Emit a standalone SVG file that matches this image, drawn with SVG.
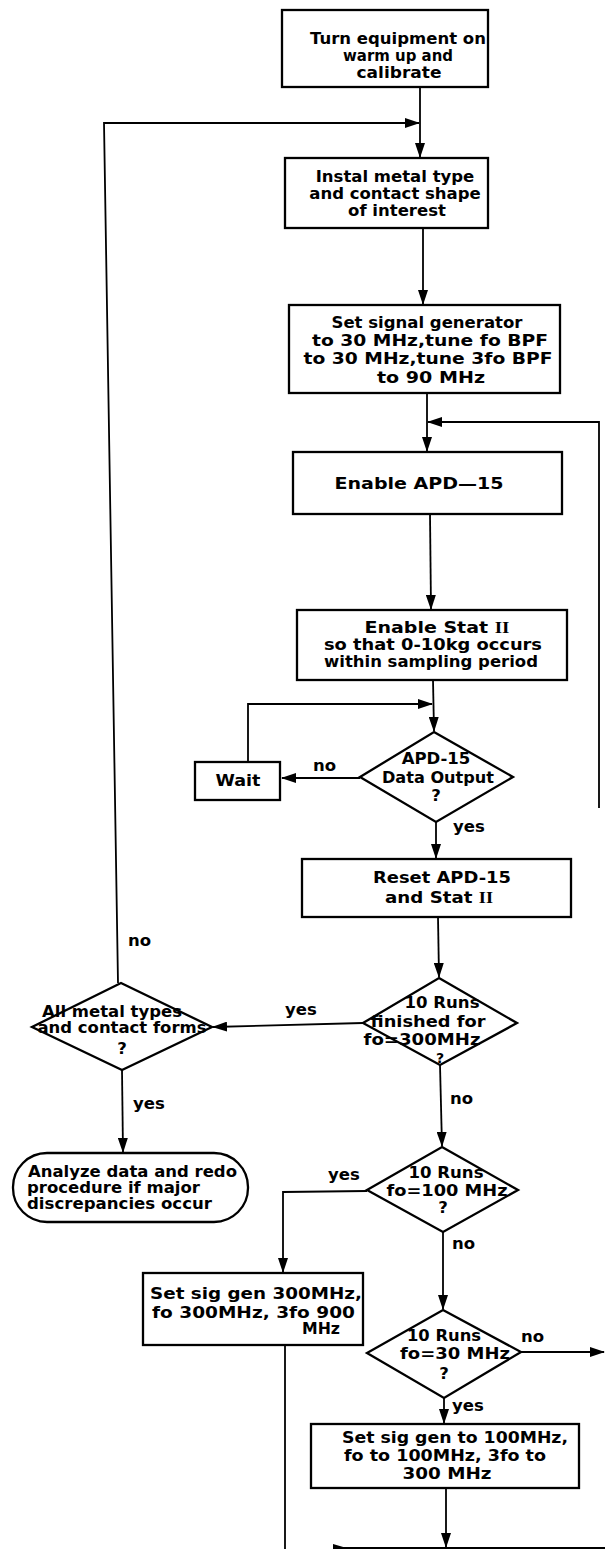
<svg xmlns="http://www.w3.org/2000/svg" width="605" height="1549" viewBox="0 0 605 1549">
<defs>
<marker id="ah" markerUnits="userSpaceOnUse" markerWidth="15" markerHeight="10" refX="14" refY="5" orient="auto">
<path d="M0,0 L15,5 L0,10 z" fill="#000"/>
</marker>
<style>
rect.b, polygon.d, rect.t { fill: #fff; stroke: #000; stroke-width: 2.3; }
.c { fill: none; stroke: #000; stroke-width: 1.8; }
.ca { fill: none; stroke: #000; stroke-width: 1.8; marker-end: url(#ah); }
text { font-family: "DejaVu Sans", "Liberation Sans", sans-serif; font-weight: bold; font-size: 16.5px; fill: #000; }
text.m { text-anchor: middle; }
.r { font-family: "Liberation Serif", serif; }
</style>
</defs>
<rect width="605" height="1549" fill="#fff"/>

<g id="connectors">
<path class="ca" d="M420,87 L420,157"/>
<path class="ca" d="M118,983 L104,123 L419,123"/>
<path class="ca" d="M423,228 L423,304"/>
<path class="ca" d="M427,393 L427,451"/>
<path class="ca" d="M599,808 L599,422 L428,422"/>
<path class="ca" d="M430,514 L431,609"/>
<path class="ca" d="M433,680 L434,731"/>
<path class="ca" d="M248,762 L248,704 L432,704"/>
<path class="ca" d="M360,778 L282,778"/>
<path class="ca" d="M436,822 L436,858"/>
<path class="ca" d="M438,917 L439,977"/>
<path class="ca" d="M363,1023 L213,1027"/>
<path class="ca" d="M122,1070 L123,1152"/>
<path class="ca" d="M440,1065 L442,1146"/>
<path class="ca" d="M367,1191 L283,1192 L283,1272"/>
<path class="ca" d="M443,1232 L443,1309"/>
<path class="ca" d="M521,1352 L604,1352"/>
<path class="ca" d="M444,1398 L444,1423"/>
<path class="ca" d="M446,1488 L446,1547"/>
<path class="c" d="M285,1345 L285,1549"/>
<path class="c" d="M340,1548 L605,1548"/>
<polygon points="333,1544 350,1549 333,1549" fill="#000"/>
<text x="313" y="771">no</text>
<text x="453" y="832">yes</text>
<text x="128" y="946">no</text>
<text x="285" y="1015">yes</text>
<text x="133" y="1109">yes</text>
<text x="450" y="1104">no</text>
<text x="328" y="1180">yes</text>
<text x="452" y="1249">no</text>
<text x="521" y="1342">no</text>
<text x="452" y="1411">yes</text>
</g>

<g id="n-start">
<rect class="b" x="282" y="10" width="206" height="77"/>
<text class="m" x="398" y="44">Turn equipment on</text>
<text class="m" x="398" y="61" textLength="110" lengthAdjust="spacingAndGlyphs">warm up and</text>
<text class="m" x="399" y="78" textLength="85" lengthAdjust="spacingAndGlyphs">calibrate</text>
</g>

<g id="n-install">
<rect class="b" x="285" y="158" width="203" height="70"/>
<text class="m" x="395" y="182">Instal metal type</text>
<text class="m" x="395" y="199">and contact shape</text>
<text class="m" x="397" y="216">of interest</text>
</g>

<g id="n-setsig30">
<rect class="b" x="289" y="305" width="271" height="88"/>
<text class="m" x="427" y="328" textLength="191" lengthAdjust="spacingAndGlyphs">Set signal generator</text>
<text class="m" x="430" y="346" textLength="236" lengthAdjust="spacingAndGlyphs">to 30 MHz,tune fo BPF</text>
<text class="m" x="428" y="364" textLength="249" lengthAdjust="spacingAndGlyphs">to 30 MHz,tune 3fo BPF</text>
<text class="m" x="431" y="383" textLength="108" lengthAdjust="spacingAndGlyphs">to 90 MHz</text>
</g>

<g id="n-apd">
<rect class="b" x="293" y="452" width="269" height="62"/>
<text class="m" x="419" y="489" textLength="169" lengthAdjust="spacingAndGlyphs">Enable APD—15</text>
</g>

<g id="n-stat">
<rect class="b" x="297" y="610" width="270" height="70"/>
<text class="m" x="437" y="633" textLength="145" lengthAdjust="spacingAndGlyphs">Enable Stat <tspan class="r">II</tspan></text>
<text class="m" x="433" y="650" textLength="218" lengthAdjust="spacingAndGlyphs">so that 0-10kg occurs</text>
<text class="m" x="431" y="667" textLength="214" lengthAdjust="spacingAndGlyphs">within sampling period</text>
</g>

<g id="n-apdout">
<polygon class="d" points="434,732 513,777 436,822 360,777"/>
<text class="m" x="436" y="764">APD-15</text>
<text class="m" x="438" y="783" textLength="112" lengthAdjust="spacingAndGlyphs">Data Output</text>
<text class="m" x="436" y="801">?</text>
</g>

<g id="n-wait">
<rect class="b" x="195" y="762" width="85" height="38"/>
<text class="m" x="238" y="786" textLength="45" lengthAdjust="spacingAndGlyphs">Wait</text>
</g>

<g id="n-reset">
<rect class="b" x="302" y="859" width="269" height="58"/>
<text class="m" x="442" y="883" textLength="138" lengthAdjust="spacingAndGlyphs">Reset APD-15</text>
<text class="m" x="439" y="903" textLength="108" lengthAdjust="spacingAndGlyphs">and Stat <tspan class="r">II</tspan></text>
</g>

<g id="n-runs300">
<polygon class="d" points="439,978 517,1023 440,1065 363,1023"/>
<text class="m" x="442" y="1008" textLength="75" lengthAdjust="spacingAndGlyphs">10 Runs</text>
<text class="m" x="428" y="1027" textLength="115" lengthAdjust="spacingAndGlyphs">finished for</text>
<text class="m" x="422" y="1045" textLength="117" lengthAdjust="spacingAndGlyphs">fo=300MHz</text>
<text class="m" x="440" y="1063" style="font-size:14px">?</text>
</g>

<g id="n-allmetal">
<polygon class="d" points="121,983 212,1027 122,1070 32,1027"/>
<text class="m" x="112" y="1017" textLength="140" lengthAdjust="spacingAndGlyphs">All metal types</text>
<text class="m" x="122" y="1033" textLength="169" lengthAdjust="spacingAndGlyphs">and contact forms</text>
<text class="m" x="122" y="1054">?</text>
</g>

<g id="n-analyze">
<rect class="t" x="13" y="1153" width="235" height="69" rx="34" ry="34"/>
<text x="28" y="1177" textLength="209" lengthAdjust="spacingAndGlyphs">Analyze data and redo</text>
<text x="27" y="1193" textLength="173" lengthAdjust="spacingAndGlyphs">procedure if major</text>
<text x="27" y="1209" textLength="185" lengthAdjust="spacingAndGlyphs">discrepancies occur</text>
</g>

<g id="n-runs100">
<polygon class="d" points="442,1147 518,1190 443,1232 367,1190"/>
<text class="m" x="446" y="1178" textLength="75" lengthAdjust="spacingAndGlyphs">10 Runs</text>
<text class="m" x="447" y="1196" textLength="121" lengthAdjust="spacingAndGlyphs">fo=100 MHz</text>
<text class="m" x="443" y="1213">?</text>
</g>

<g id="n-set300">
<rect class="b" x="143" y="1273" width="220" height="72"/>
<text x="150" y="1299" textLength="212" lengthAdjust="spacingAndGlyphs">Set sig gen 300MHz,</text>
<text x="152" y="1318" textLength="203" lengthAdjust="spacingAndGlyphs">fo 300MHz, 3fo 900</text>
<text x="302" y="1334" textLength="38" lengthAdjust="spacingAndGlyphs">MHz</text>
</g>

<g id="n-runs30">
<polygon class="d" points="443,1310 521,1352 444,1398 367,1353"/>
<text class="m" x="444" y="1341" textLength="74" lengthAdjust="spacingAndGlyphs">10 Runs</text>
<text class="m" x="455" y="1359" textLength="110" lengthAdjust="spacingAndGlyphs">fo=30 MHz</text>
<text class="m" x="444" y="1379">?</text>
</g>

<g id="n-set100">
<rect class="b" x="311" y="1424" width="268" height="64"/>
<text class="m" x="455" y="1443" textLength="226" lengthAdjust="spacingAndGlyphs">Set sig gen to 100MHz,</text>
<text class="m" x="445" y="1461" textLength="202" lengthAdjust="spacingAndGlyphs">fo to 100MHz, 3fo to</text>
<text class="m" x="447" y="1479" textLength="89" lengthAdjust="spacingAndGlyphs">300 MHz</text>
</g>
</svg>
